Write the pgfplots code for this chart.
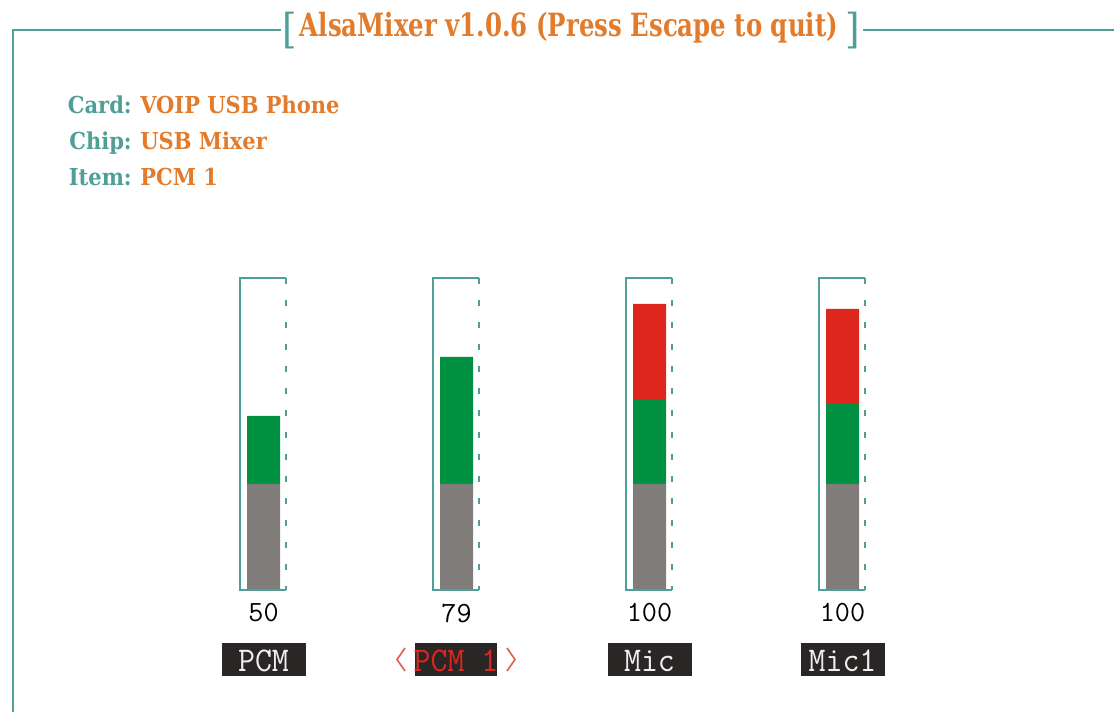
\documentclass[border=0pt]{standalone}
\usepackage{pgfplots}
\pgfplotsset{compat=1.18}
\usepackage{pgfplotstable}
\usepackage{fontspec}
\setmainfont{Liberation Serif}
\newfontfamily\titlefont{DejaVu Serif Condensed}
\definecolor{teal2}{HTML}{4F9F98}
\definecolor{orng}{HTML}{E27B2B}
\definecolor{gbar}{HTML}{009142}
\definecolor{rbar}{HTML}{DC261E}
\definecolor{gray2}{HTML}{807C7A}
\definecolor{dark}{HTML}{2A2626}
\definecolor{chev}{HTML}{E05A4E}
\definecolor{lbl}{HTML}{F0EEEE}

\pgfplotstableread{
x gray green red
0 34.0 21.8 0
1 34.0 40.7 0
2 34.0 26.9 30.8
3 34.0 25.6 30.5
}\levels

\begin{document}
\begin{tikzpicture}
\useasboundingbox (0,0) rectangle (835.5pt,-534pt);
\begin{axis}[at={(0,0)}, anchor=north west, width=835.5pt, height=534pt,
  scale only axis, hide axis, xmin=-1.36528, xmax=4.40674,
  ymin=-39.1026, ymax=189.1026, ybar stacked, bar width=24.75pt, clip=false]
\addplot[fill=gray2, draw=none] table[x=x,y=gray]{\levels};
\addplot[fill=gbar, draw=none] table[x=x,y=green]{\levels};
\addplot[fill=rbar, draw=none] table[x=x,y=red]{\levels};
\end{axis}
\begin{scope}[x=0.75pt, y=-0.75pt]
% frame
\draw[teal2, line width=1.5pt] (281,30) -- (13,30) -- (13,712);
\draw[teal2, line width=1.5pt] (863,30) -- (1114,30);
% title
\node[orng, inner sep=0pt, font=\titlefont\bfseries\fontsize{24}{28}\selectfont] at (569,28) {\resizebox{403.5pt}{\height}{AlsaMixer v1.0.6 (Press Escape to quit)}};
\node[teal2, inner sep=0pt, font=\titlefont\fontsize{31}{34}\selectfont] at (290,31) {[};
\node[teal2, inner sep=0pt, font=\titlefont\fontsize{31}{34}\selectfont] at (853,31) {]};
% card info
\tikzset{lab/.style={anchor=base east, inner sep=0pt, teal2, font=\titlefont\bfseries\fontsize{17.5}{20}\selectfont},
         val/.style={anchor=base west, inner sep=0pt, orng, font=\titlefont\bfseries\fontsize{17.5}{20}\selectfont}}
\node[lab] at (132,113.5) {Card:};
\node[val] at (140,113.5) {VOIP USB Phone};
\node[lab] at (132,149.5) {Chip:};
\node[val] at (140,149.5) {USB Mixer};
\node[lab] at (132,185.5) {Item:};
\node[val] at (140,185.5) {PCM 1};
% meter boxes
\foreach \c in {263.5,456.5,649.5,842.5} {
  \draw[teal2, line width=1.5pt] ({\c+22.5},278) -- ({\c-23.5},278) -- ({\c-23.5},590) -- ({\c+22.5},590);
  \draw[teal2, line width=1.5pt, dash pattern=on 4.5pt off 12pt] ({\c+22.5},278) -- ({\c+22.5},590);
}
% values
\foreach \c/\v in {263.5/50,456.5/79,649.5/100,842.5/100} {
  \node[inner sep=0pt, font=\ttfamily\fontsize{22}{24}\selectfont] at (\c,613) {\v};
}
% labels
\foreach \c/\t in {263.5/PCM,649.5/Mic,842.5/Mic1} {
  \fill[dark] ({\c-42},643) rectangle ({\c+42},676);
  \node[inner sep=0pt, text=lbl, font=\ttfamily\fontsize{26}{28}\selectfont] at (\c,661) {\scalebox{0.95}[1]{\t}};
}
\fill[dark] (415,643) rectangle (497,676);
\node[inner sep=0pt, text=rbar, font=\ttfamily\fontsize{26}{28}\selectfont] at (456,661) {\scalebox{0.95}[1]{PCM 1}};
\draw[chev, line width=1.2pt] (405,648) -- (397,659.5) -- (405,671);
\draw[chev, line width=1.2pt] (507,648) -- (515,659.5) -- (507,671);
\end{scope}
\end{tikzpicture}
\end{document}
